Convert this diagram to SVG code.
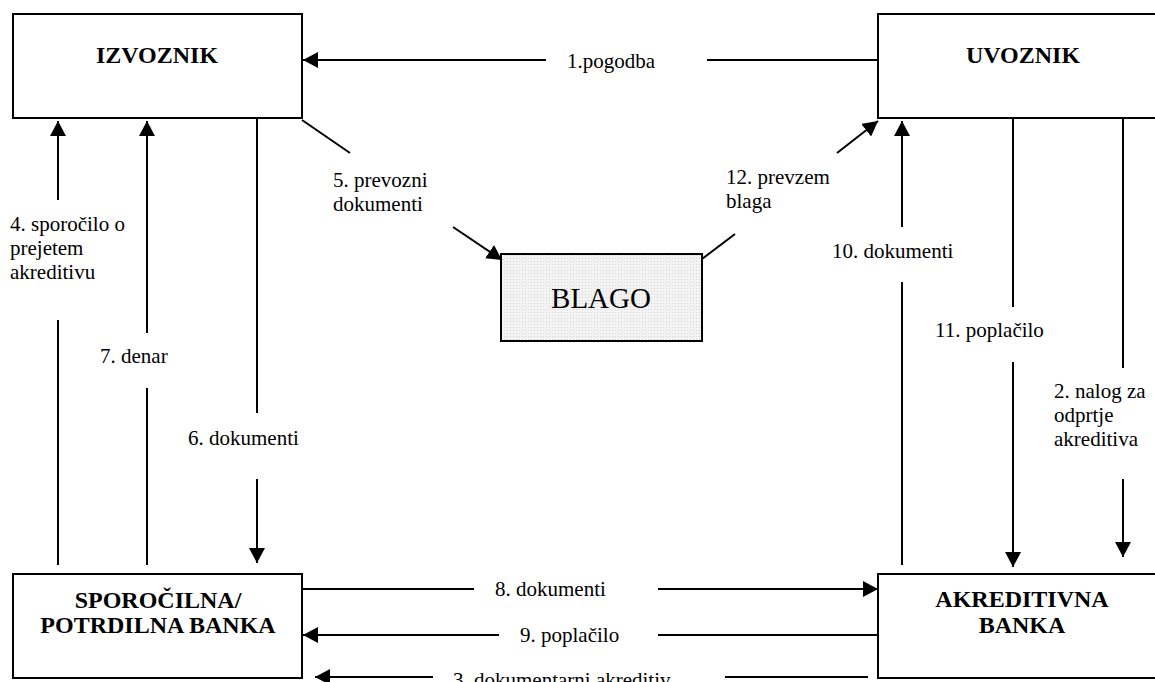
<svg xmlns="http://www.w3.org/2000/svg" width="1155" height="682" viewBox="0 0 1155 682">
<style>
.box{fill:#fff;stroke:#000;stroke-width:2}
.c{fill:none;stroke:#000;stroke-width:2}
.t{font-family:"Liberation Serif","Times New Roman",serif;font-size:21px;fill:#000}
.b{font-family:"Liberation Serif","Times New Roman",serif;font-size:24px;font-weight:bold;fill:#000;text-anchor:middle}
</style>
<defs>
<marker id="ah" markerUnits="userSpaceOnUse" markerWidth="16" markerHeight="16" refX="15" refY="8" orient="auto">
<path d="M0,0 L15,8 L0,16 z" fill="#000"/>
</marker>
<pattern id="dots" width="3" height="3" patternUnits="userSpaceOnUse">
<rect width="3" height="3" fill="#f3f3f3"/>
<rect width="1" height="1" fill="#d6d6d6"/>
</pattern>
</defs>
<g id="izvoznik">
<rect class="box" x="13" y="14" width="289" height="104"/>
<text class="b" x="157" y="63">IZVOZNIK</text>
</g>
<g id="uvoznik">
<rect class="box" x="878" y="14" width="290" height="104"/>
<text class="b" x="1023" y="63">UVOZNIK</text>
</g>
<g id="blago">
<rect x="501" y="254" width="201" height="87" fill="url(#dots)" stroke="#000" stroke-width="2"/>
<text x="601" y="308" font-family="Liberation Serif,Times New Roman,serif" font-size="29" text-anchor="middle">BLAGO</text>
</g>
<g id="sporocilna">
<rect class="box" x="13" y="574" width="289" height="104"/>
<text class="b" x="158" y="608">SPOROČILNA/</text>
<text class="b" x="158" y="633">POTRDILNA BANKA</text>
</g>
<g id="akreditivna">
<rect class="box" x="878" y="574" width="290" height="104"/>
<text class="b" x="1022" y="607">AKREDITIVNA</text>
<text class="b" x="1022" y="633">BANKA</text>
</g>
<g id="connectors">
<!-- 1 pogodba -->
<line class="c" x1="878" y1="60" x2="707" y2="60"/>
<line class="c" x1="546" y1="60" x2="303" y2="60" marker-end="url(#ah)"/>
<text class="t" x="567" y="68">1.pogodba</text>
<!-- 4 sporocilo -->
<line class="c" x1="58" y1="565" x2="58" y2="320"/>
<line class="c" x1="58" y1="200" x2="58" y2="121" marker-end="url(#ah)"/>
<text class="t" x="10" y="231">4. sporočilo o</text>
<text class="t" x="10" y="255">prejetem</text>
<text class="t" x="10" y="279">akreditivu</text>
<!-- 7 denar -->
<line class="c" x1="147" y1="565" x2="147" y2="388"/>
<line class="c" x1="147" y1="333" x2="147" y2="121" marker-end="url(#ah)"/>
<text class="t" x="100" y="363">7. denar</text>
<!-- 6 dokumenti -->
<line class="c" x1="257" y1="118" x2="257" y2="413"/>
<line class="c" x1="257" y1="479" x2="257" y2="563" marker-end="url(#ah)"/>
<text class="t" x="188" y="445">6. dokumenti</text>
<!-- 5 prevozni dokumenti -->
<line class="c" x1="302" y1="120" x2="350" y2="153"/>
<line class="c" x1="453" y1="227" x2="502" y2="260" marker-end="url(#ah)"/>
<text class="t" x="333" y="187">5. prevozni</text>
<text class="t" x="333" y="211">dokumenti</text>
<!-- 12 prevzem blaga -->
<line class="c" x1="702" y1="259" x2="735" y2="234"/>
<line class="c" x1="837" y1="153" x2="878" y2="121" marker-end="url(#ah)"/>
<text class="t" x="726" y="184">12. prevzem</text>
<text class="t" x="726" y="208">blaga</text>
<!-- 10 dokumenti -->
<line class="c" x1="902" y1="565" x2="902" y2="282"/>
<line class="c" x1="902" y1="227" x2="902" y2="121" marker-end="url(#ah)"/>
<text class="t" x="832" y="258">10. dokumenti</text>
<!-- 11 poplacilo -->
<line class="c" x1="1013" y1="118" x2="1013" y2="307"/>
<line class="c" x1="1013" y1="362" x2="1013" y2="567" marker-end="url(#ah)"/>
<text class="t" x="935" y="337">11. poplačilo</text>
<!-- 2 nalog -->
<line class="c" x1="1123" y1="118" x2="1123" y2="368"/>
<line class="c" x1="1123" y1="479" x2="1123" y2="557" marker-end="url(#ah)"/>
<text class="t" x="1054" y="398">2. nalog za</text>
<text class="t" x="1054" y="422">odprtje</text>
<text class="t" x="1054" y="446">akreditiva</text>
<!-- 8 dokumenti -->
<line class="c" x1="302" y1="589" x2="474" y2="589"/>
<line class="c" x1="658" y1="589" x2="878" y2="589" marker-end="url(#ah)"/>
<text class="t" x="495" y="596">8. dokumenti</text>
<!-- 9 poplacilo -->
<line class="c" x1="878" y1="635" x2="658" y2="635"/>
<line class="c" x1="499" y1="635" x2="303" y2="635" marker-end="url(#ah)"/>
<text class="t" x="520" y="642">9. poplačilo</text>
<!-- 3 dokumentarni akreditiv -->
<line class="c" x1="868" y1="677" x2="725" y2="677"/>
<line class="c" x1="433" y1="677" x2="315" y2="677" marker-end="url(#ah)"/>
<text class="t" x="453" y="687">3. dokumentarni akreditiv</text>
</g>
</svg>
